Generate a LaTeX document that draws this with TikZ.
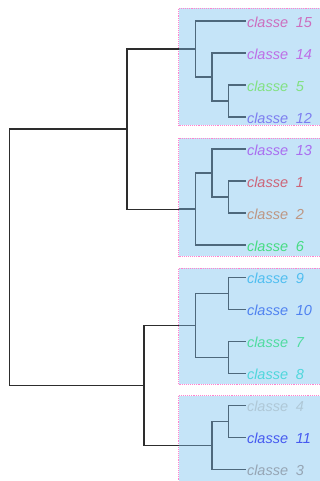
\documentclass[tikz,border=0pt]{standalone}
\usepackage{fontspec}
\setmainfont{Liberation Sans}
\definecolor{boxblue}{RGB}{197,228,248}
\definecolor{pinkb}{RGB}{255,130,205}
\definecolor{slate}{RGB}{78,104,124}
\definecolor{dark}{RGB}{45,45,45}
\definecolor{c15}{RGB}{205,110,190}
\definecolor{c14}{RGB}{190,110,230}
\definecolor{c5}{RGB}{130,225,130}
\definecolor{c12}{RGB}{125,125,240}
\definecolor{c13}{RGB}{170,110,240}
\definecolor{c1}{RGB}{205,100,120}
\definecolor{c2}{RGB}{190,150,130}
\definecolor{c6}{RGB}{70,220,130}
\definecolor{c9}{RGB}{80,190,240}
\definecolor{c10}{RGB}{80,130,240}
\definecolor{c7}{RGB}{80,220,160}
\definecolor{c8}{RGB}{80,215,220}
\definecolor{c4}{RGB}{175,200,215}
\definecolor{c11}{RGB}{70,90,240}
\definecolor{c3}{RGB}{150,165,180}
\tikzset{
  grp/.style={draw=pinkb, densely dotted, line width=0.9pt, fill=boxblue,
    inner sep=0pt, outer sep=0pt, minimum width=151.5pt},
  tree/.style={draw=slate, line width=1.5pt},
  outer/.style={draw=dark, line width=1.4pt},
  lab/.style={anchor=base west, inner sep=0pt, font=\fontsize{14.5}{16}\selectfont\itshape}
}
\begin{document}
\begin{tikzpicture}[x=1pt,y=-1pt]
\clip (0,0) rectangle (320,481);
% group boxes
\node[grp, minimum height=116.5pt] (box1) at (254.25,66.75) {};
\node[grp, minimum height=117.5pt] (box2) at (254.25,197.25) {};
\node[grp, minimum height=116pt]   (box3) at (254.25,326) {};
\node[grp, minimum height=99.5pt]  (box4) at (254.25,445.25) {};
% leaves
\foreach \n/\i in {15/0,14/1,5/2,12/3,13/4,1/5,2/6,6/7,9/8,10/9,7/10,8/11,4/12,11/13,3/14}{
  \coordinate (l\n) at (246,{21.1+32.02*\i});
  \node[lab, text=c\n] (t\n) at (246.8,{27.4+32.02*\i}) {classe\hspace{7.8pt}\n};
}
% internal nodes
\coordinate (a512) at (228.7,101.15);
\coordinate (a14)  at (212,77.14);
\coordinate (g1)   at (195.3,49.12);
\coordinate (b12)  at (228.7,197.21);
\coordinate (b13)  at (212,173.2);
\coordinate (g2)   at (195.3,209.22);
\coordinate (c910) at (228.7,293.27);
\coordinate (c78)  at (228.7,357.31);
\coordinate (g3)   at (195.3,325.29);
\coordinate (d411) at (228.7,421.35);
\coordinate (g4)   at (212,445.37);
\coordinate (A)    at (127,129.17);
\coordinate (B)    at (144,385.33);
\coordinate (R)    at (9.5,257.25);
% group trees
\draw[tree] (a512) |- (l5); \draw[tree] (a512) |- (l12);
\draw[tree] (a14) |- (l14); \draw[tree] (a14) |- (a512);
\draw[tree] (g1) |- (l15); \draw[tree] (g1) |- (a14);
\draw[tree] (b12) |- (l1); \draw[tree] (b12) |- (l2);
\draw[tree] (b13) |- (l13); \draw[tree] (b13) |- (b12);
\draw[tree] (g2) |- (b13); \draw[tree] (g2) |- (l6);
\draw[tree] (c910) |- (l9); \draw[tree] (c910) |- (l10);
\draw[tree] (c78) |- (l7); \draw[tree] (c78) |- (l8);
\draw[tree] (g3) |- (c910); \draw[tree] (g3) |- (c78);
\draw[tree] (d411) |- (l4); \draw[tree] (d411) |- (l11);
\draw[tree] (g4) |- (d411); \draw[tree] (g4) |- (l3);
% stems inside the boxes
\draw[tree] (box1.west |- g1) -- (g1);
\draw[tree] (box2.west |- g2) -- (g2);
\draw[tree] (box3.west |- g3) -- (g3);
\draw[tree] (box4.west |- g4) -- (g4);
% outer tree
\draw[outer] (A) |- (box1.west |- g1);
\draw[outer] (A) |- (box2.west |- g2);
\draw[outer] (B) |- (box3.west |- g3);
\draw[outer] (B) |- (box4.west |- g4);
\draw[outer] (R) |- (A);
\draw[outer] (R) |- (B);
\end{tikzpicture}
\end{document}
